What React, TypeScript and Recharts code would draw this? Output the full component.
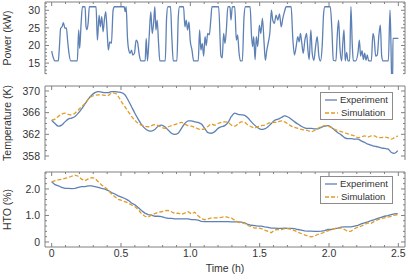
import React from "react";
import { Legend, Line, LineChart, XAxis, YAxis } from "recharts";

// --- data ---

// power trace (h, kW)
const pwrTime = [
  0, 0.012, 0.024, 0.048, 0.055, 0.065, 0.075, 0.084, 0.096, 0.106,
  0.116, 0.125, 0.137, 0.185, 0.195, 0.202, 0.212, 0.222, 0.241, 0.248,
  0.255, 0.263, 0.272, 0.32, 0.33, 0.342, 0.351, 0.361, 0.371, 0.38,
  0.39, 0.4, 0.409, 0.419, 0.431, 0.443, 0.453, 0.523, 0.53, 0.537,
  0.547, 0.556, 0.566, 0.576, 0.585, 0.597, 0.609, 0.619, 0.631, 0.643,
  0.674, 0.682, 0.691, 0.703, 0.715, 0.725, 0.735, 0.744, 0.752, 0.761,
  0.771, 0.78, 0.819, 0.829, 0.838, 0.857, 0.867, 0.877, 0.903, 0.913,
  0.922, 0.951, 0.961, 0.97, 0.98, 0.99, 0.999, 1.012, 1.024, 1.057,
  1.067, 1.076, 1.086, 1.096, 1.106, 1.115, 1.125, 1.137, 1.147, 1.156,
  1.204, 1.221, 1.23, 1.24, 1.25, 1.259, 1.271, 1.286, 1.293, 1.303,
  1.32, 1.332, 1.341, 1.351, 1.361, 1.375, 1.387, 1.397, 1.431, 1.441,
  1.449, 1.457, 1.467, 1.476, 1.486, 1.498, 1.508, 1.52, 1.532, 1.541,
  1.551, 1.561, 1.573, 1.585, 1.594, 1.606, 1.618, 1.631, 1.643, 1.655,
  1.667, 1.679, 1.691, 1.727, 1.739, 1.751, 1.763, 1.775, 1.785, 1.794,
  1.804, 1.814, 1.826, 1.838, 1.848, 1.857, 1.869, 1.879, 1.891, 1.903,
  1.915, 1.927, 1.939, 1.951, 1.961, 1.97, 2.009, 2.021, 2.031, 2.05,
  2.059, 2.069, 2.079, 2.091, 2.1, 2.108, 2.117, 2.127, 2.137, 2.149,
  2.158, 2.168, 2.175, 2.192, 2.209, 2.219, 2.228, 2.238, 2.248, 2.257,
  2.267, 2.276, 2.286, 2.305, 2.317, 2.327, 2.336, 2.348, 2.36, 2.37,
  2.38, 2.39, 2.428, 2.44, 2.447, 2.452, 2.459, 2.461, 2.5,
];
const pwrKW = [
  18.4, 16.5, 15.6, 15.6, 19, 24.9, 25.3, 26.5, 24.9, 25,
  21, 17.8, 15.6, 15.6, 24.4, 19.2, 26, 31, 31, 25.3,
  24.5, 26.3, 31, 31, 21.5, 28.6, 25.3, 28.2, 23.9, 27.2,
  29.6, 24, 18.7, 21, 20.6, 30, 31, 31, 29.6, 31,
  22, 18.7, 17.8, 18.7, 17.3, 17.8, 21.5, 21, 17.5, 15.6,
  15.6, 22, 15.6, 22.5, 29.6, 23.4, 26.3, 31, 24.4, 27.2,
  20.6, 15.6, 15.6, 28, 31, 31, 22, 15.6, 15.6, 28,
  31, 31, 25.3, 27.2, 24.4, 26.7, 21.5, 18.7, 15.6, 15.6,
  24.4, 18.7, 20.6, 17, 22.5, 20, 23.4, 23, 27, 31,
  31, 17, 16.5, 23.4, 20.6, 24, 31, 31, 27.2, 31,
  31, 21.5, 23, 18, 15.6, 15.6, 28, 31, 31, 23,
  19.7, 22.5, 16, 22.5, 19.7, 25.8, 23.4, 27.7, 20.6, 15.8,
  18.5, 20.6, 23.4, 30, 27.2, 26.3, 28.6, 27.2, 29, 25.3,
  27.7, 29.6, 31, 31, 22, 17.3, 19.7, 22.5, 21, 23.4,
  20.6, 17.8, 21.5, 23.4, 18.7, 16, 24.4, 17.8, 15.8, 19.7,
  22.5, 17, 15.6, 20, 29, 31, 31, 24.4, 15.8, 15.6,
  22.5, 27.2, 19.2, 15.6, 21, 24.4, 15.6, 18, 15.6, 15.6,
  31, 20, 15.6, 15.6, 18, 21.5, 17, 18.5, 16, 17.8,
  15.8, 17.3, 15.6, 15.6, 23.4, 21.5, 17, 17.3, 23, 25.8,
  17, 15.6, 15.6, 30, 20, 10, 10, 22, 22,
];

// shared sampling for temperature and HTO (h)
const sampleTime = [
  0, 0.024, 0.048, 0.072, 0.096, 0.12, 0.144, 0.168, 0.192, 0.216,
  0.24, 0.264, 0.288, 0.312, 0.336, 0.36, 0.384, 0.408, 0.432, 0.456,
  0.48, 0.504, 0.528, 0.552, 0.576, 0.6, 0.624, 0.648, 0.672, 0.696,
  0.72, 0.744, 0.768, 0.792, 0.816, 0.84, 0.864, 0.888, 0.912, 0.936,
  0.96, 0.984, 1.008, 1.032, 1.056, 1.08, 1.104, 1.128, 1.152, 1.176,
  1.2, 1.224, 1.248, 1.272, 1.296, 1.32, 1.344, 1.368, 1.392, 1.416,
  1.44, 1.464, 1.488, 1.512, 1.536, 1.56, 1.584, 1.608, 1.632, 1.656,
  1.68, 1.704, 1.728, 1.752, 1.776, 1.8, 1.824, 1.848, 1.872, 1.896,
  1.92, 1.944, 1.968, 1.992, 2.016, 2.04, 2.064, 2.088, 2.112, 2.136,
  2.16, 2.184, 2.208, 2.232, 2.256, 2.28, 2.304, 2.328, 2.352, 2.376,
  2.4, 2.424, 2.448, 2.472, 2.496,
];

// temperature (K)
const tempExp = [
  364.6, 364.0, 363.5, 363.7, 364.3, 364.8, 365.0, 365.3, 365.9, 366.7,
  367.6, 368.5, 369.2, 369.7, 369.9, 369.8, 369.7, 369.7, 369.9, 369.9,
  369.8, 369.7, 369.3, 368.3, 367.1, 365.9, 364.8, 363.8, 363.1, 362.7,
  362.6, 362.9, 363.5, 363.7, 363.4, 362.8, 362.2, 362.0, 362.2, 363.1,
  364.0, 364.5, 364.5, 364.3, 364.2, 363.9, 363.1, 362.3, 362.2, 362.5,
  363.1, 363.4, 363.6, 364.2, 365.3, 365.9, 365.7, 365.6, 365.5, 365.0,
  364.3, 363.7, 363.2, 362.9, 363.0, 363.4, 364.0, 364.6, 364.8, 365.1,
  365.4, 365.2, 364.8, 364.3, 363.9, 363.5, 363.2, 363.1, 363.1, 363.0,
  363.0, 363.3, 363.5, 363.6, 363.3, 362.8, 362.3, 361.9, 361.4, 361.2,
  361.2, 361.1, 361.1, 360.8, 360.5, 360.2, 360.0, 359.8, 359.7, 359.5,
  359.4, 359.3, 358.7, 358.5, 359.0,
];
const tempSim = [
  364.6, 364.8, 365.3, 365.7, 365.9, 365.7, 365.6, 365.9, 366.5, 367.1,
  367.7, 368.5, 369.0, 369.2, 369.3, 369.3, 369.2, 369.2, 369.6, 369.6,
  369.0, 368.0, 367.1, 366.2, 365.3, 364.6, 364.0, 363.7, 363.5, 363.4,
  363.6, 363.8, 363.6, 363.3, 363.1, 363.4, 363.6, 363.8, 364.0, 364.2,
  363.9, 363.6, 363.5, 363.3, 363.0, 362.9, 363.0, 363.5, 363.9, 363.7,
  364.0, 364.2, 364.3, 364.2, 363.7, 363.5, 363.9, 364.3, 364.2, 363.7,
  363.4, 363.2, 363.4, 363.6, 363.7, 364.0, 364.2, 364.2, 364.3, 364.5,
  364.3, 363.9, 363.5, 363.3, 363.1, 362.9, 362.8, 362.7, 362.5, 362.7,
  363.1, 363.4, 363.6, 363.5, 363.3, 362.9, 362.7, 362.5, 362.3, 362.1,
  361.9, 361.7, 361.4, 361.5, 361.7, 361.5, 361.7, 361.7, 361.4, 361.4,
  361.5, 361.4, 361.1, 361.4, 361.7,
];

// HTO (%)
const htoExp = [
  2.27, 2.16, 2.12, 2.06, 2.02, 2.02, 2.01, 2.02, 2.06, 2.09,
  2.09, 2.12, 2.12, 2.09, 2.06, 2.02, 1.99, 1.94, 1.86, 1.81,
  1.74, 1.69, 1.64, 1.57, 1.47, 1.4, 1.3, 1.19, 1.09, 1.03,
  1.01, 0.97, 0.97, 0.96, 0.92, 0.89, 0.89, 0.87, 0.87, 0.87,
  0.87, 0.87, 0.84, 0.84, 0.82, 0.78, 0.77, 0.77, 0.77, 0.77,
  0.77, 0.77, 0.77, 0.77, 0.76, 0.76, 0.76, 0.75, 0.72, 0.66,
  0.63, 0.62, 0.6, 0.6, 0.57, 0.55, 0.52, 0.52, 0.51, 0.51,
  0.52, 0.51, 0.51, 0.5, 0.47, 0.45, 0.42, 0.41, 0.41, 0.4,
  0.4, 0.41, 0.43, 0.47, 0.47, 0.5, 0.52, 0.56, 0.57, 0.57,
  0.57, 0.6, 0.63, 0.68, 0.72, 0.76, 0.81, 0.84, 0.89, 0.93,
  0.97, 0.99, 1.03, 1.06, 1.07,
];
const htoSim = [
  2.27, 2.31, 2.34, 2.36, 2.4, 2.43, 2.48, 2.52, 2.48, 2.37,
  2.31, 2.38, 2.43, 2.4, 2.27, 2.15, 2.06, 1.96, 1.81, 1.71,
  1.61, 1.57, 1.52, 1.47, 1.4, 1.34, 1.22, 1.07, 0.97, 0.94,
  1.01, 1.07, 1.12, 1.14, 1.18, 1.19, 1.14, 1.07, 1.09, 1.04,
  1.09, 1.14, 1.06, 1.12, 0.99, 0.88, 0.84, 0.87, 0.91, 0.91,
  0.91, 0.93, 0.96, 0.93, 0.91, 0.82, 0.75, 0.72, 0.7, 0.62,
  0.57, 0.52, 0.53, 0.5, 0.45, 0.4, 0.35, 0.45, 0.47, 0.47,
  0.5, 0.5, 0.47, 0.43, 0.37, 0.32, 0.27, 0.22, 0.19, 0.22,
  0.29, 0.32, 0.37, 0.42, 0.47, 0.5, 0.52, 0.53, 0.47, 0.4,
  0.41, 0.5, 0.56, 0.6, 0.66, 0.72, 0.7, 0.78, 0.84, 0.88,
  0.91, 0.94, 0.97, 1.01, 1.03,
];

// tick positions (all) and the labelled (major) ones
const timeTicks = [
  0, 0.1, 0.2, 0.3, 0.4, 0.5, 0.6, 0.7, 0.8, 0.9, 1, 1.1, 1.2, 1.3,
  1.4, 1.5, 1.6, 1.7, 1.8, 1.9, 2, 2.1, 2.2, 2.3, 2.4, 2.5,
];
const timeMajor = [0, 0.5, 1, 1.5, 2, 2.5];
const powerTicks = [12, 13, 14, 15, 16, 17, 18, 19, 20, 21, 22, 23, 24, 25, 26, 27, 28, 29, 30, 31, 32];
const powerMajor = [15, 20, 25, 30];
const tempTicks = [358, 359, 360, 361, 362, 363, 364, 365, 366, 367, 368, 369, 370];
const tempMajor = [358, 362, 366, 370];
const htoTicks = [0, 0.2, 0.4, 0.6, 0.8, 1, 1.2, 1.4, 1.6, 1.8, 2, 2.2, 2.4, 2.6];
const htoMajor = [0, 1, 2];

const powerRows = pwrTime.map((t, i) => ({ t, kw: pwrKW[i] }));
const tempRows = sampleTime.map((t, i) => ({ t, exp: tempExp[i], sim: tempSim[i] }));
const htoRows = sampleTime.map((t, i) => ({ t, exp: htoExp[i], sim: htoSim[i] }));

const BLUE = "#5e81b5";
const ORANGE = "#e19c24";
const FRAME = "#808080";
const INK = "#333";
const FONT = "'Liberation Sans', Arial, sans-serif";
const TIME_DOMAIN: [number, number] = [-0.048, 2.548];

const isIn = (v: number, list: number[]) => list.some((m) => Math.abs(m - v) < 1e-6);

/** inward frame tick on a horizontal edge, optional label below */
function XTick(props: any) {
  const { x, y, payload, side, labels } = props;
  const v = payload.value;
  const major = isIn(v, timeMajor);
  const len = major ? 4 : 2;
  const dir = side === "bottom" ? -1 : 1;
  return (
    <g>
      <line x1={x} x2={x} y1={y} y2={y + dir * len} stroke={FRAME} />
      {labels && major && (
        <text x={x} y={y + 10} textAnchor="middle" fontSize={10.5} fill={INK} fontFamily={FONT}>
          {v === 0 ? "0" : v.toFixed(1)}
        </text>
      )}
    </g>
  );
}

/** inward frame tick on a vertical edge, optional label to the left */
function YTick(props: any) {
  const { x, y, payload, side, majors, fmt } = props;
  const v = payload.value;
  const major = isIn(v, majors);
  const len = major ? 4 : 2;
  const dir = side === "left" ? 1 : -1;
  return (
    <g>
      <line x1={x} x2={x + dir * len} y1={y} y2={y} stroke={FRAME} />
      {fmt && major && (
        <text x={x - 5} y={y} dy="0.35em" textAnchor="end" fontSize={10.5} fill={INK} fontFamily={FONT}>
          {fmt(v)}
        </text>
      )}
    </g>
  );
}

function YTitle({ viewBox, text }: any) {
  const cy = viewBox.y + viewBox.height / 2;
  return (
    <text
      x={7}
      y={cy}
      transform={`rotate(-90, 7, ${cy})`}
      textAnchor="middle"
      dominantBaseline="central"
      fontSize={10.5}
      fill={INK}
      fontFamily={FONT}
    >
      {text}
    </text>
  );
}

function LegendBox({ payload }: any) {
  return (
    <div
      style={{
        border: "1px solid #8c8c8c",
        background: "#fff",
        padding: "0 4px 0 4px",
        width: 63,
        fontFamily: FONT,
        fontSize: 9.5,
        color: INK,
      }}
    >
      {(payload ?? []).map((item: any) => (
        <div key={item.value} style={{ display: "flex", alignItems: "center", height: 13 }}>
          <svg width={13} height={6} style={{ marginRight: 3 }}>
            <line
              x1={0}
              x2={13}
              y1={3}
              y2={3}
              stroke={item.color}
              strokeWidth={1.3}
              strokeDasharray={item.payload?.strokeDasharray}
            />
          </svg>
          <span>{item.value}</span>
        </div>
      ))}
    </div>
  );
}

function FrameAxes({ ticks, domain, majors, fmt, title, bottomHeight, bottomLabels }: any) {
  return [
    <XAxis
      key="xb"
      dataKey="t"
      type="number"
      domain={TIME_DOMAIN}
      allowDataOverflow
      ticks={timeTicks}
      interval={0}
      height={bottomHeight}
      tickSize={0}
      tickMargin={0}
      tickLine={false}
      axisLine={{ stroke: FRAME }}
      tick={(p: any) => <XTick {...p} side="bottom" labels={bottomLabels} />}
      label={
        bottomLabels
          ? {
              content: ({ viewBox }: any) => (
                <text
                  x={viewBox.x + viewBox.width / 2}
                  y={viewBox.y + 24.5}
                  textAnchor="middle"
                  fontSize={10.5}
                  fill={INK}
                  fontFamily={FONT}
                >
                  Time (h)
                </text>
              ),
            }
          : undefined
      }
    />,
    <XAxis
      key="xt"
      xAxisId="top"
      orientation="top"
      dataKey="t"
      type="number"
      domain={TIME_DOMAIN}
      allowDataOverflow
      ticks={timeTicks}
      interval={0}
      height={1}
      tickSize={0}
      tickMargin={0}
      tickLine={false}
      axisLine={{ stroke: FRAME }}
      tick={(p: any) => <XTick {...p} side="top" />}
    />,
    <YAxis
      key="yl"
      type="number"
      domain={domain}
      allowDataOverflow
      ticks={ticks}
      interval={0}
      width={45}
      tickSize={0}
      tickMargin={0}
      tickLine={false}
      axisLine={{ stroke: FRAME }}
      tick={(p: any) => <YTick {...p} side="left" majors={majors} fmt={fmt} />}
      label={{ content: (lp: any) => <YTitle viewBox={lp.viewBox} text={title} /> }}
    />,
    <YAxis
      key="yr"
      yAxisId="right"
      orientation="right"
      type="number"
      domain={domain}
      allowDataOverflow
      ticks={ticks}
      interval={0}
      width={1}
      tickSize={0}
      tickMargin={0}
      tickLine={false}
      axisLine={{ stroke: FRAME }}
      tick={(p: any) => <YTick {...p} side="right" majors={majors} />}
    />,
  ];
}

export default function App() {
  return (
    <div
      style={{
        position: "absolute",
        left: 0,
        top: 0,
        width: 408,
        height: 280,
        background: "#fff",
        fontFamily: FONT,
      }}
    >
      {/* power */}
      <div style={{ position: "absolute", left: 0, top: 0 }}>
        <LineChart width={408} height={76} data={powerRows} margin={{ top: 1, right: 2, bottom: 2, left: 0 }}>
          {FrameAxes({
            ticks: powerTicks,
            domain: [11.9, 32.35],
            majors: powerMajor,
            fmt: (v: number) => String(v),
            title: "Power (kW)",
            bottomHeight: 0,
            bottomLabels: false,
          })}
          <Line
            dataKey="kw"
            type="monotoneX"
            stroke={BLUE}
            strokeWidth={1.3}
            dot={false}
            activeDot={false}
            isAnimationActive={false}
          />
        </LineChart>
      </div>

      {/* temperature */}
      <div style={{ position: "absolute", left: 0, top: 84 }}>
        <LineChart width={408} height={78} data={tempRows} margin={{ top: 1, right: 2, bottom: 2, left: 0 }}>
          {FrameAxes({
            ticks: tempTicks,
            domain: [357.26, 370.92],
            majors: tempMajor,
            fmt: (v: number) => String(v),
            title: "Temperature (K)",
            bottomHeight: 0,
            bottomLabels: false,
          })}
          <Line name="Experiment" dataKey="exp" type="monotone" stroke={BLUE} strokeWidth={1.3}
            dot={false} activeDot={false} isAnimationActive={false} />
          <Line name="Simulation" dataKey="sim" type="monotone" stroke={ORANGE} strokeWidth={1.3}
            strokeDasharray="4 2" dot={false} activeDot={false} isAnimationActive={false} />
          <Legend
            layout="vertical"
            align="center"
            verticalAlign="middle"
            content={<LegendBox />}
            wrapperStyle={{ left: 320, top: 8, width: "auto", height: "auto" }}
          />
        </LineChart>
      </div>

      {/* HTO */}
      <div style={{ position: "absolute", left: 0, top: 170 }}>
        <LineChart width={408} height={110} data={htoRows} margin={{ top: 1, right: 2, bottom: 0, left: 0 }}>
          {FrameAxes({
            ticks: htoTicks,
            domain: [-0.19, 2.64],
            majors: htoMajor,
            fmt: (v: number) => (v === 0 ? "0" : v.toFixed(1)),
            title: "HTO (%)",
            bottomHeight: 33,
            bottomLabels: true,
          })}
          <Line name="Experiment" dataKey="exp" type="linear" stroke={BLUE} strokeWidth={1.3}
            dot={false} activeDot={false} isAnimationActive={false} />
          <Line name="Simulation" dataKey="sim" type="linear" stroke={ORANGE} strokeWidth={1.3}
            strokeDasharray="4 2" dot={false} activeDot={false} isAnimationActive={false} />
          <Legend
            layout="vertical"
            align="center"
            verticalAlign="middle"
            content={<LegendBox />}
            wrapperStyle={{ left: 320, top: 6, width: "auto", height: "auto" }}
          />
        </LineChart>
      </div>
    </div>
  );
}
